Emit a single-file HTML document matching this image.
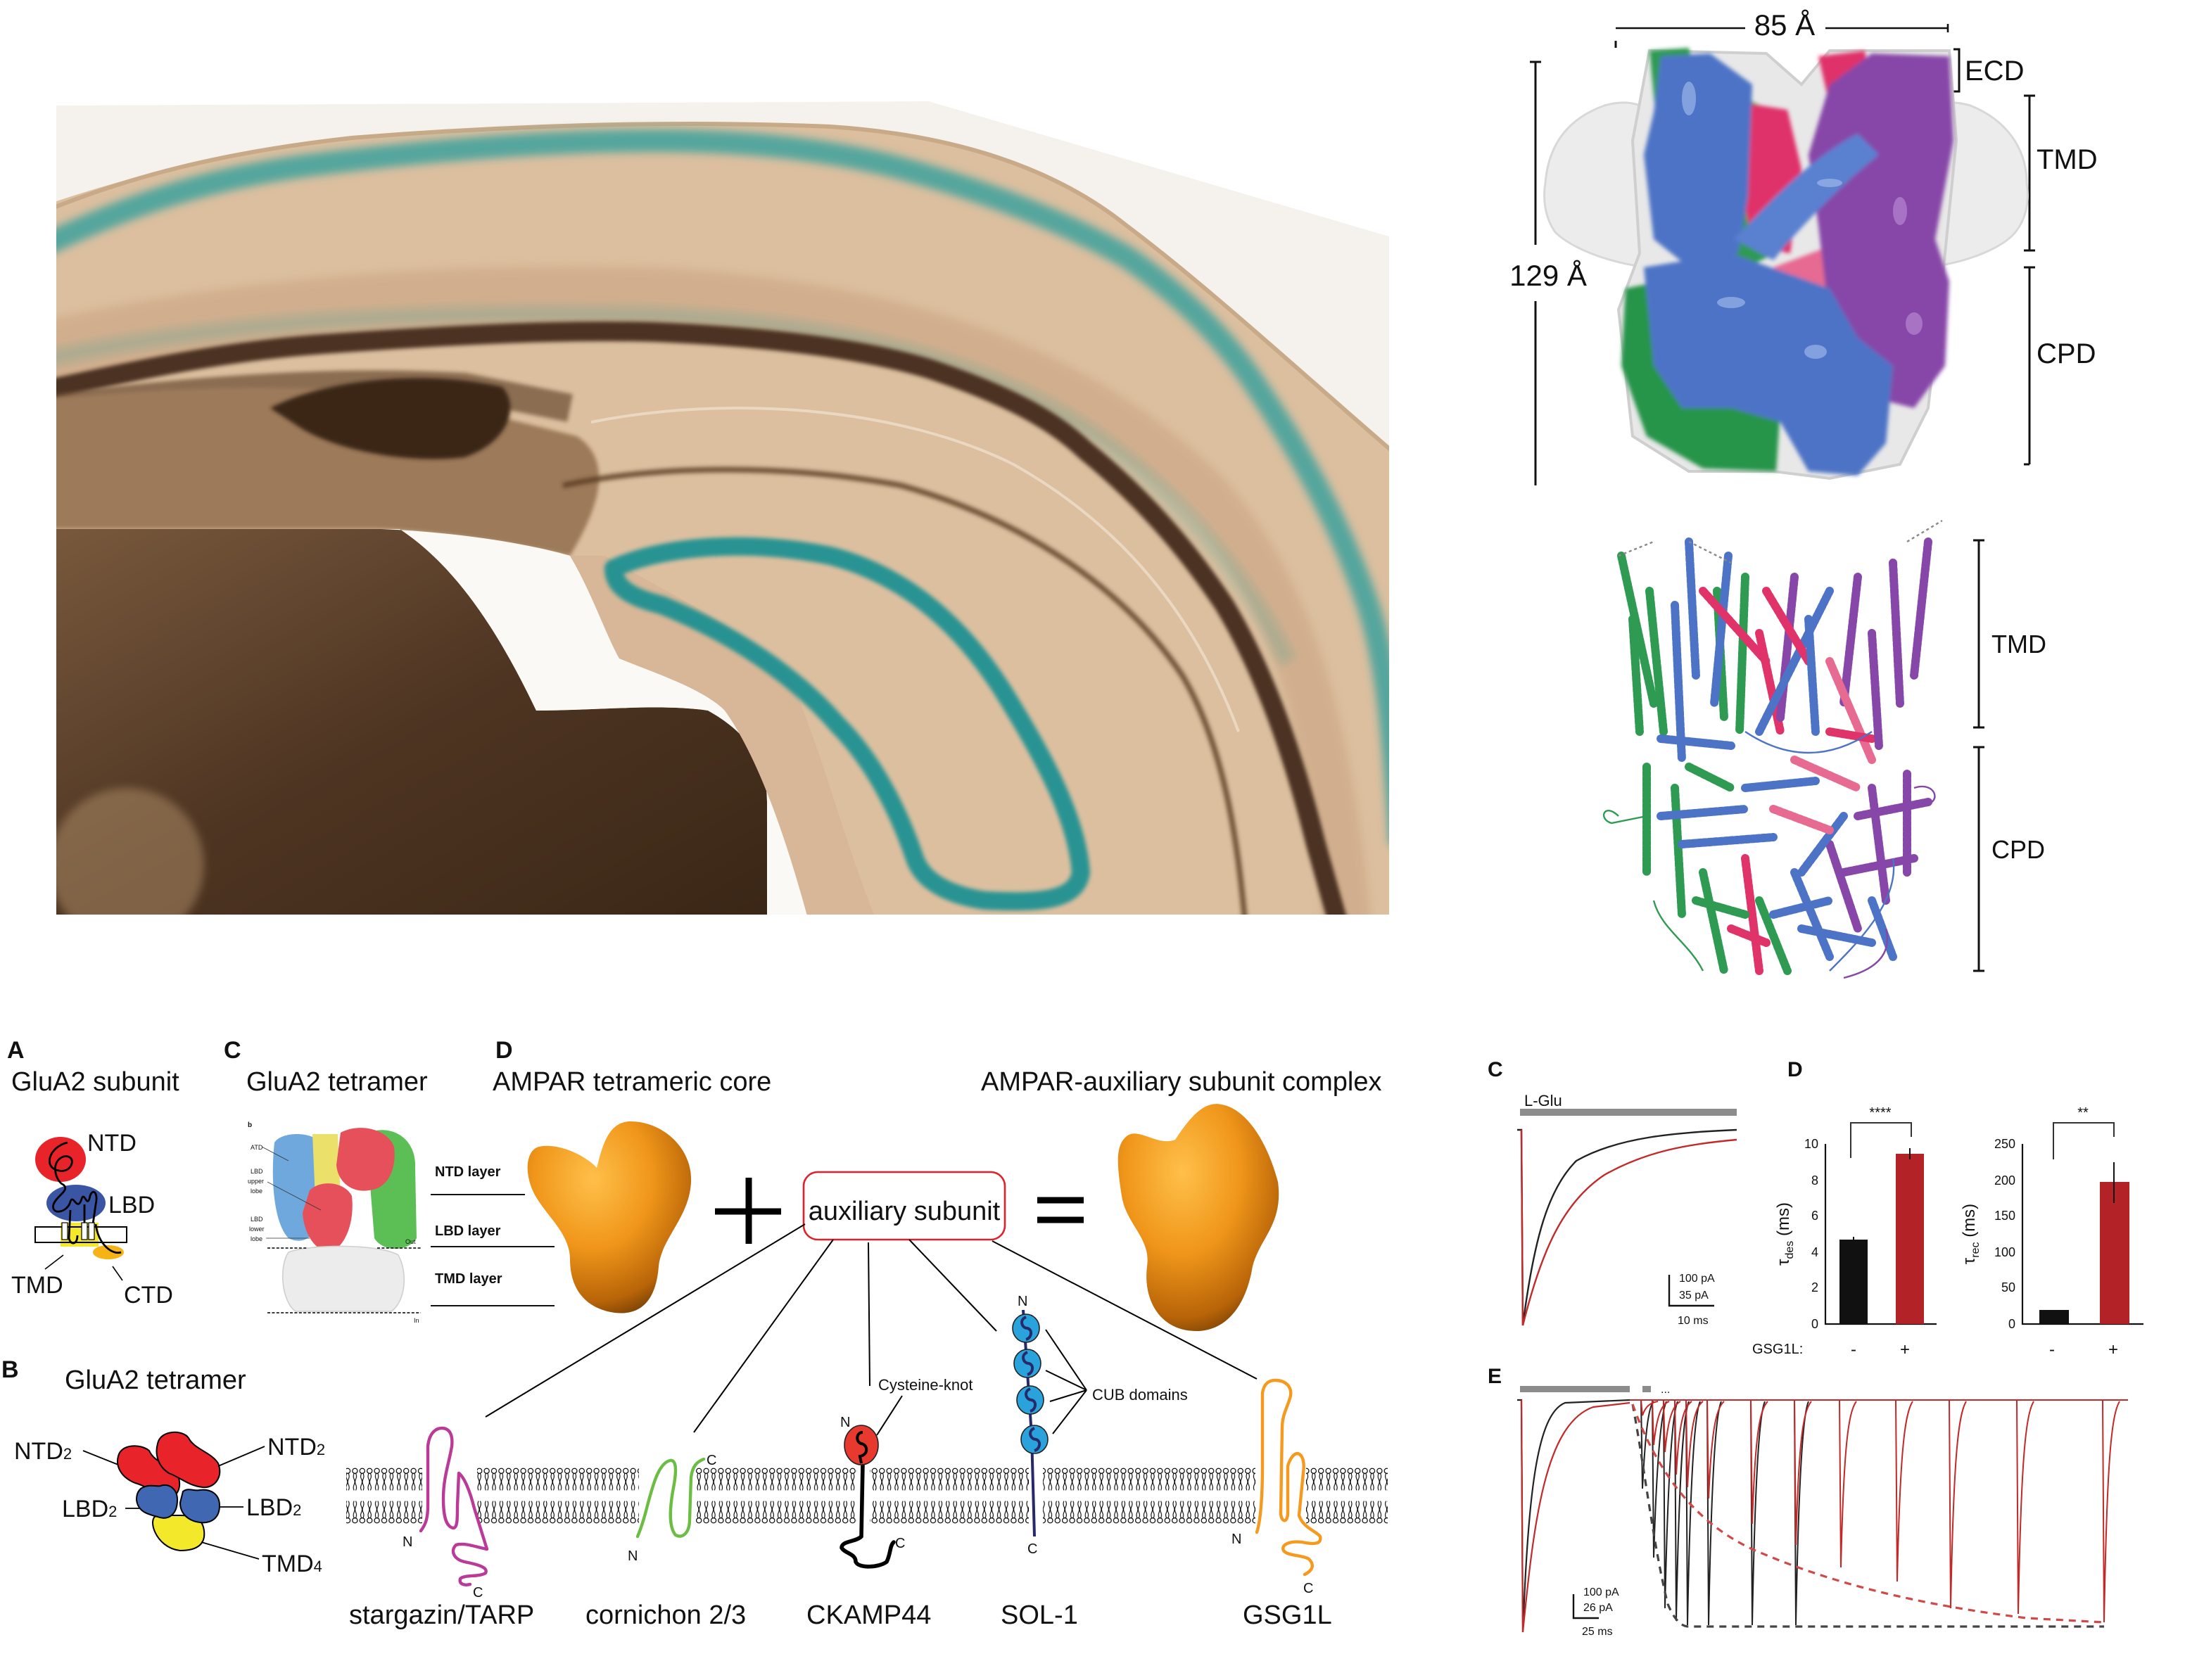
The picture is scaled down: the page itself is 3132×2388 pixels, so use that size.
<!DOCTYPE html>
<html><head><meta charset="utf-8"><style>
html,body{margin:0;padding:0;background:#fff;}
svg{display:block;}
text{font-family:"Liberation Sans",Arial,sans-serif;fill:#111;}
</style></head><body>
<svg width="3132" height="2388" viewBox="0 0 1566 1194" xmlns="http://www.w3.org/2000/svg">
<defs>
<radialGradient id="org" cx="0.4" cy="0.3" r="0.8">
<stop offset="0" stop-color="#ffc04a"/><stop offset="0.45" stop-color="#f0961a"/><stop offset="0.8" stop-color="#b86408"/><stop offset="1" stop-color="#5a3004"/>
</radialGradient>
<linearGradient id="thal" x1="0" y1="0" x2="1" y2="1">
<stop offset="0" stop-color="#7a5a3e"/><stop offset="0.5" stop-color="#4e3522"/><stop offset="1" stop-color="#3a2616"/>
</linearGradient>
<filter id="bl" filterUnits="userSpaceOnUse" x="0" y="0" width="1566" height="1194"><feGaussianBlur stdDeviation="3"/></filter>
<filter id="bl2" filterUnits="userSpaceOnUse" x="0" y="0" width="1566" height="1194"><feGaussianBlur stdDeviation="1.5"/></filter>
<clipPath id="bc"><polygon points="40,75 660,72 987,168 987,650 40,650"/></clipPath>
<pattern id="lip" x="0" y="1043" width="5.2" height="40" patternUnits="userSpaceOnUse">
<circle cx="2.6" cy="2.4" r="1.8" fill="#fff" stroke="#000" stroke-width="0.6"/>
<path d="M2,4.2 q-1,2 0,4 q1,2 0,4 q-1,2 0,4 M3.2,4.2 q1,2 0,4 q-1,2 0,4 q1,2 0,4" fill="none" stroke="#000" stroke-width="0.55"/>
<path d="M2,35.8 q-1,-2 0,-4 q1,-2 0,-4 q-1,-2 0,-4 M3.2,35.8 q1,-2 0,-4 q-1,-2 0,-4 q1,-2 0,-4" fill="none" stroke="#000" stroke-width="0.55"/>
<circle cx="2.6" cy="37.6" r="1.8" fill="#fff" stroke="#000" stroke-width="0.6"/>
</pattern>
</defs>

<!-- ================= BRAIN IMAGE ================= -->
<g clip-path="url(#bc)">
<polygon points="40,75 660,72 987,168 987,650 40,650" fill="#f5f1ec"/>
<path d="M20,150 C90,125 160,108 250,98 C350,90 470,85 590,90 C680,96 750,120 800,160 C860,205 930,270 1000,330 L1000,660 L20,660 Z" fill="#dcbf9f"/>
<path d="M20,155 C90,125 160,108 250,98 C350,90 470,85 590,90 C680,96 750,120 800,160 C860,205 930,270 1000,330" fill="none" stroke="#c9aa88" stroke-width="3"/>
<path d="M20,230 C150,200 300,185 470,190 C650,200 780,250 870,340 C930,410 960,500 975,660 L940,660 C930,520 900,430 850,370 C770,285 640,240 470,235 C300,232 150,250 20,280 Z" fill="#caa684" opacity="0.6" filter="url(#bl)"/>
<g filter="url(#bl)">
<path d="M20,180 C100,140 160,125 223,117 C320,105 400,100 466,100 C540,100 600,108 649,122 C720,142 770,165 801,183 C840,210 870,240 893,275 C930,330 955,380 972,430 C985,470 990,520 995,600" fill="none" stroke="#2a9d9c" stroke-width="16" opacity="0.75"/>
<path d="M20,258 C150,228 300,220 466,224 C600,230 700,258 771,305 C830,345 880,400 915,470" fill="none" stroke="#2a9a95" stroke-width="12" opacity="0.2"/>
</g>
<path d="M20,280 C100,262 160,250 223,245 C320,238 400,234 466,236 C560,240 620,250 660,262 C720,282 750,300 771,320 C820,360 850,400 870,430 C900,480 920,540 935,600 L952,660" fill="none" stroke="#4b3321" stroke-width="14" filter="url(#bl2)"/>
<path d="M20,292 C150,275 250,270 330,275 L405,290" fill="none" stroke="#6b4c33" stroke-width="20" opacity="0.7" filter="url(#bl2)"/>
<path d="M20,285 C120,275 200,272 280,280 C330,290 370,300 410,310 C440,330 420,370 405,395 C360,385 310,378 271,376 L20,376 Z" fill="#9c7a5a" filter="url(#bl2)"/>
<path d="M192,290 C230,270 300,262 357,275 C370,290 360,315 330,325 C290,330 240,320 215,305 Z" fill="#3b2818" filter="url(#bl2)"/>
<path d="M400,345 C470,330 560,330 640,345 C730,370 800,420 840,480 C870,530 880,600 885,660" fill="none" stroke="#5a3b24" stroke-width="4" opacity="0.8" filter="url(#bl2)"/>
<path d="M420,300 C520,280 640,290 720,330 C800,375 850,440 880,520" fill="none" stroke="#efe2d2" stroke-width="2" opacity="0.7"/>
<path d="M20,376 L284,376 C320,400 350,440 381,505 C420,505 470,500 503,505 C530,520 545,540 545,570 L545,660 L20,660 Z" fill="url(#thal)"/>
<ellipse cx="90" cy="615" rx="55" ry="55" fill="#a3825f" opacity="0.6" filter="url(#bl)"/>
<path d="M271,376 C320,378 370,385 405,395 C420,420 430,450 440,468 C470,480 500,490 515,505 C540,540 560,600 576,660 L545,660 L545,570 C545,540 530,520 503,505 C470,500 420,505 381,505 C350,440 320,400 284,376 Z" fill="#fbf9f6"/>
<path d="M405,395 C420,420 430,450 440,468 C470,480 500,490 515,505 C540,540 560,600 576,660 L625,660 C600,600 580,520 560,480 C520,440 470,420 430,395 Z" fill="#d7b797"/>
<path d="M436,404 C470,388 530,383 590,395 C640,408 680,440 712,490 C740,535 765,580 768,620 C765,640 740,642 700,640 C672,636 655,625 650,610 C638,575 620,540 595,515 C565,480 520,450 470,430 C450,425 436,418 436,404 Z" fill="none" stroke="#168f92" stroke-width="13" stroke-linejoin="round" opacity="0.9" filter="url(#bl2)"/>
</g>

<!-- ================= CRYO-EM MAP ================= -->
<line x1="1148" y1="20" x2="1240" y2="20" stroke="#111" stroke-width="1.3"/>
<line x1="1297" y1="20" x2="1384" y2="20" stroke="#111" stroke-width="1.3"/>
<line x1="1384" y1="17" x2="1384" y2="23" stroke="#111" stroke-width="1.3"/>
<line x1="1148" y1="29" x2="1148" y2="34" stroke="#111" stroke-width="1.5"/>
<text x="1268" y="25" font-size="21" text-anchor="middle">85 Å</text>
<line x1="1091" y1="44" x2="1091" y2="174" stroke="#111" stroke-width="1.5"/>
<line x1="1091" y1="214" x2="1091" y2="345" stroke="#111" stroke-width="1.5"/>
<line x1="1087" y1="44" x2="1095" y2="44" stroke="#111" stroke-width="1.5"/>
<text x="1100" y="203" font-size="21" text-anchor="middle">129 Å</text>
<path d="M1388,35 L1392,35 L1392,65 L1388,65" fill="none" stroke="#111" stroke-width="1.5"/>
<text x="1396" y="57" font-size="20">ECD</text>
<path d="M1438,68 L1442,68 L1442,178 L1438,178" fill="none" stroke="#111" stroke-width="1.5"/>
<path d="M1442,68 L1446,68 M1442,178 L1446,178" stroke="#111" stroke-width="1.5"/>
<text x="1447" y="120" font-size="20">TMD</text>
<path d="M1438,190 L1446,190 M1442,190 L1442,330 M1438,330 L1442,330" fill="none" stroke="#111" stroke-width="1.5"/>
<text x="1447" y="258" font-size="20">CPD</text>
<path d="M1098,130 C1100,105 1112,85 1140,75 C1165,68 1180,80 1185,100 L1185,190 C1160,192 1120,180 1105,165 C1098,155 1096,142 1098,130 Z" fill="#ececec" stroke="#d8d8d8" stroke-width="1.5"/>
<path d="M1440,130 C1440,105 1425,85 1400,75 C1375,68 1360,80 1355,100 L1355,190 C1380,192 1420,180 1432,165 C1440,155 1442,142 1440,130 Z" fill="#ececec" stroke="#d8d8d8" stroke-width="1.5"/>
<path d="M1172,36 L1255,38 L1280,60 L1300,36 L1385,36 L1390,100 L1380,200 L1370,290 L1350,330 L1300,340 L1260,335 L1200,335 L1160,310 L1150,220 L1165,180 L1160,100 Z" fill="#e8e8e8" stroke="#cfcfcf" stroke-width="2"/>
<g filter="url(#bl2)">
<path d="M1172,36 L1200,34 L1215,110 L1240,70 L1262,80 L1262,180 L1230,195 L1200,180 L1180,120 Z" fill="#2e9a52"/>
<path d="M1155,205 L1180,200 L1210,250 L1265,290 L1262,335 L1210,333 L1170,310 L1152,260 Z" fill="#279448"/>
<path d="M1232,72 L1270,78 L1280,120 L1272,180 L1245,175 L1235,120 Z" fill="#e0336a"/>
<path d="M1292,40 L1325,36 L1330,70 L1300,75 Z" fill="#e0336a"/>
<path d="M1260,190 L1300,175 L1310,230 L1270,240 Z" fill="#e66a92"/>
<path d="M1300,60 L1330,38 L1385,40 L1388,100 L1375,170 L1385,200 L1382,260 L1360,290 L1320,280 L1300,230 L1292,160 L1285,110 Z" fill="#8747a8"/>
<path d="M1180,40 L1215,38 L1245,60 L1242,140 L1235,180 L1200,190 L1175,170 L1168,110 L1175,80 Z" fill="#4d73c6"/>
<path d="M1232,170 C1260,140 1290,110 1320,95 L1335,110 C1310,130 1280,160 1260,185 Z" fill="#5a80d0"/>
<path d="M1168,190 L1230,180 L1300,205 L1320,240 L1345,260 L1340,315 L1320,338 L1285,335 L1265,300 L1230,290 L1195,290 L1175,260 Z" fill="#4d73c6"/>
</g>
<g fill="#a8c0f0" opacity="0.6"><ellipse cx="1200" cy="70" rx="5" ry="12"/><ellipse cx="1230" cy="215" rx="10" ry="4"/><ellipse cx="1290" cy="250" rx="8" ry="5"/><ellipse cx="1300" cy="130" rx="9" ry="3"/></g>
<g fill="#c9a0e0" opacity="0.5"><ellipse cx="1350" cy="150" rx="5" ry="10"/><ellipse cx="1360" cy="230" rx="6" ry="8"/></g>

<!-- ================= RIBBON ================= -->
<path d="M1406,384 L1406,517 M1402,384 L1410,384 M1402,517 L1410,517" stroke="#111" stroke-width="1.5" fill="none"/>
<path d="M1406,531 L1406,690 M1402,531 L1410,531 M1402,690 L1410,690" stroke="#111" stroke-width="1.5" fill="none"/>
<text x="1415" y="464" font-size="18">TMD</text>
<text x="1415" y="610" font-size="18">CPD</text>
<g fill="none" stroke-width="6" stroke-dasharray="2.2 1.6" stroke-linecap="round">
<path d="M1152,395 L1175,500" stroke="#2e9a52"/>
<path d="M1172,420 L1182,520" stroke="#2e9a52"/>
<path d="M1240,410 L1236,520" stroke="#2e9a52"/>
<path d="M1220,420 L1225,510" stroke="#2e9a52"/>
<path d="M1200,385 L1205,480" stroke="#4d73c6"/>
<path d="M1190,430 L1195,540" stroke="#4d73c6"/>
<path d="M1228,395 L1218,500" stroke="#4d73c6"/>
<path d="M1210,420 L1255,470" stroke="#e0336a"/>
<path d="M1250,450 L1265,520" stroke="#e0336a"/>
<path d="M1275,410 L1265,510" stroke="#8747a8"/>
<path d="M1300,420 L1250,520" stroke="#4d73c6"/>
<path d="M1320,410 L1310,500" stroke="#8747a8"/>
<path d="M1345,400 L1350,500" stroke="#8747a8"/>
<path d="M1370,385 L1360,480" stroke="#8747a8"/>
<path d="M1300,470 L1330,540" stroke="#e66a92"/>
<path d="M1180,525 L1230,530" stroke="#4d73c6"/>
<path d="M1300,520 L1330,525" stroke="#e0336a"/>
<path d="M1240,560 L1290,555" stroke="#4d73c6"/>
<path d="M1275,540 L1320,560" stroke="#e66a92"/>
<path d="M1170,545 L1170,620" stroke="#2e9a52"/>
<path d="M1190,560 L1195,650" stroke="#2e9a52"/>
<path d="M1330,560 L1340,640" stroke="#8747a8"/>
<path d="M1355,550 L1355,620" stroke="#8747a8"/>
<path d="M1195,600 L1260,595" stroke="#4d73c6"/>
<path d="M1210,620 L1225,690" stroke="#2e9a52"/>
<path d="M1240,610 L1250,690" stroke="#e0336a"/>
<path d="M1275,620 L1300,680" stroke="#4d73c6"/>
<path d="M1300,600 L1320,660" stroke="#8747a8"/>
<path d="M1310,580 L1280,620" stroke="#4d73c6"/>
<path d="M1250,640 L1270,690" stroke="#2e9a52"/>
<path d="M1330,640 L1345,680" stroke="#4d73c6"/>
<path d="M1160,440 L1165,520" stroke="#2e9a52"/>
<path d="M1255,420 L1285,470" stroke="#e0336a"/>
<path d="M1285,440 L1290,520" stroke="#4d73c6"/>
<path d="M1330,450 L1335,530" stroke="#8747a8"/>
<path d="M1180,580 L1240,575" stroke="#4d73c6"/>
<path d="M1260,575 L1300,590" stroke="#e66a92"/>
<path d="M1320,580 L1370,570" stroke="#8747a8"/>
<path d="M1205,640 L1240,650" stroke="#2e9a52"/>
<path d="M1260,650 L1300,640" stroke="#4d73c6"/>
<path d="M1310,620 L1360,610" stroke="#8747a8"/>
<path d="M1200,545 L1230,560" stroke="#2e9a52"/>
<path d="M1230,660 L1255,670" stroke="#e0336a"/>
<path d="M1280,660 L1330,670" stroke="#4d73c6"/>
</g>
<g fill="none" stroke-width="1.2">
<path d="M1150,580 C1140,570 1135,582 1145,585 L1170,580 M1175,640 C1180,660 1200,670 1210,690" stroke="#2e9a52"/>
<path d="M1360,560 C1375,555 1380,570 1368,572 M1340,660 C1345,680 1330,690 1310,695" stroke="#8747a8"/>
<path d="M1300,690 C1320,670 1350,640 1345,610 M1240,520 C1270,540 1300,540 1330,520" stroke="#4d73c6"/>
<path d="M1150,395 L1175,385 M1355,385 L1380,370 M1200,385 L1230,400" stroke="#888" stroke-dasharray="2 2"/>
</g>

<!-- ================= BOTTOM LEFT PANELS ================= -->
<text x="5" y="752" font-size="17" font-weight="bold">A</text>
<text x="159" y="752" font-size="17" font-weight="bold">C</text>
<text x="352" y="752" font-size="17" font-weight="bold">D</text>
<text x="8" y="775" font-size="19" fill="#222">GluA2 subunit</text>
<text x="175" y="775" font-size="19" fill="#222">GluA2  tetramer</text>
<text x="350" y="775" font-size="19" fill="#222">AMPAR tetrameric core</text>
<text x="697" y="775" font-size="19" fill="#222">AMPAR-auxiliary subunit complex</text>

<ellipse cx="43" cy="824" rx="18" ry="16" fill="#e8242a"/>
<ellipse cx="54" cy="855" rx="21" ry="13" fill="#3a55a4"/>
<rect x="43" y="869" width="27" height="17" fill="#f4e82a"/>
<rect x="25" y="872" width="65" height="11" fill="none" stroke="#000" stroke-width="1"/>
<ellipse cx="77" cy="890" rx="11" ry="5" fill="#f5b316"/>
<path d="M48,812 C35,815 30,830 42,832 C52,834 55,820 45,822 C35,826 40,840 45,842 C50,846 40,850 38,856 C36,864 48,862 50,854 C52,848 55,862 58,852 C60,846 62,860 64,850 C66,844 70,848 68,856 L66,870 M50,860 L49,880 C50,885 55,885 55,878 M60,856 L60,880 M68,870 C70,885 80,892 86,890" fill="none" stroke="#000" stroke-width="1.4"/>
<rect x="44" y="869" width="4" height="12" fill="#fff" stroke="#000" stroke-width="0.6"/>
<rect x="58" y="869" width="4" height="12" fill="#fff" stroke="#000" stroke-width="0.6"/>
<rect x="63" y="869" width="4" height="12" fill="#fff" stroke="#000" stroke-width="0.6"/>
<text x="62" y="818" font-size="17">NTD</text>
<text x="77" y="862" font-size="17">LBD</text>
<text x="8" y="919" font-size="17">TMD</text>
<text x="88" y="926" font-size="17">CTD</text>
<line x1="32" y1="902" x2="45" y2="892" stroke="#000" stroke-width="0.8"/>
<line x1="80" y1="900" x2="87" y2="910" stroke="#000" stroke-width="0.8"/>

<text x="176" y="801" font-size="5" font-weight="bold">b</text>
<path d="M195,812 C200,804 222,804 227,812 L228,860 C226,880 215,885 205,880 C195,870 192,840 195,812 Z" fill="#6fa8dc"/>
<path d="M222,806 L240,806 L242,852 L224,852 Z" fill="#eae06a"/>
<path d="M265,804 C280,800 296,810 295,830 L296,880 C290,890 272,890 266,880 L262,830 Z" fill="#5cbf55"/>
<path d="M242,805 C255,798 275,802 280,815 C282,832 275,845 262,846 C250,848 240,840 239,828 Z" fill="#e5505a"/>
<path d="M220,846 C228,838 245,840 250,850 C252,868 246,885 235,890 C225,890 216,878 215,862 Z" fill="#e5505a"/>
<path d="M205,890 C220,884 270,884 283,892 C290,905 288,925 278,932 L210,932 C200,925 198,900 205,890 Z" fill="#ececec" stroke="#cfcfcf" stroke-width="0.8"/>
<g font-size="4.5" fill="#333"><text x="178" y="817">ATD</text><text x="178" y="834">LBD</text><text x="176" y="841">upper</text><text x="178" y="848">lobe</text><text x="178" y="868">LBD</text><text x="177" y="875">lower</text><text x="178" y="882">lobe</text><text x="288" y="884">Out</text><text x="294" y="940">In</text></g>
<path d="M186,815 L205,825 M190,840 L228,860 M189,880 L220,880" stroke="#333" stroke-width="0.4"/>
<path d="M190,887 L218,887 M268,887 L299,887 M190,933 L299,933" stroke="#222" stroke-width="0.9" stroke-dasharray="2 1.2"/>
<g font-size="10" font-weight="bold"><text x="309" y="836">NTD layer</text><text x="309" y="878">LBD layer</text><text x="309" y="912">TMD layer</text></g>
<path d="M306,849 L373,849 M306,886 L394,886 M306,928 L394,928" stroke="#111" stroke-width="1"/>

<path d="M383,815 C395,812 415,820 424,830 C428,815 432,797 448,797 C470,797 492,815 491,840 C490,865 470,880 468,900 C466,925 455,935 437,933 C415,930 405,915 405,895 C405,875 385,862 378,845 C372,830 375,817 383,815 Z" fill="url(#org)"/>
<path d="M508,861 L555,861 M532,837 L532,884" stroke="#000" stroke-width="4.5"/>
<rect x="571" y="833" width="143" height="48" rx="10" fill="#fff" stroke="#e0202a" stroke-width="1.3"/>
<text x="642.5" y="867" font-size="19" text-anchor="middle">auxiliary subunit</text>
<path d="M737,853 L770,853 M737,867 L770,867" stroke="#000" stroke-width="4.5"/>
<path d="M800,808 C808,800 822,815 835,810 C845,795 855,782 868,785 C885,788 900,810 908,840 C912,870 895,880 890,900 C885,930 870,946 850,946 C825,946 812,925 815,900 C818,880 800,870 797,850 C794,830 792,815 800,808 Z" fill="url(#org)"/>
<g stroke="#000" stroke-width="1" fill="none">
<path d="M572,870 L345,1007"/><path d="M592,881 L493,1018"/><path d="M617,883 L618,985"/><path d="M646,881 L708,946"/><path d="M705,882 L893,980"/>
<path d="M641,992 L623,1020"/>
<path d="M772,988 L743,945 M772,988 L743,974 M772,988 L746,996 M772,988 L748,1019"/>
</g>

<g fill="url(#lip)">
<rect x="246" y="1043" width="54" height="40"/>
<rect x="339" y="1043" width="115" height="40"/>
<rect x="494" y="1043" width="115" height="40"/>
<rect x="618" y="1043" width="113" height="40"/>
<rect x="741" y="1043" width="151" height="40"/>
<rect x="928" y="1043" width="58" height="40"/>
</g>

<path d="M299,1088 C302,1084 304,1080 304,1070 L304,1028 C305,1018 310,1015 314,1015 C319,1015 322,1019 321,1028 C319,1040 315,1050 315,1065 C315,1078 317,1085 322,1086 C325,1086 325,1080 325,1070 L326,1047 C330,1050 334,1060 337,1072 L346,1101 C340,1100 330,1096 324,1098 C320,1102 322,1108 330,1110 C340,1112 347,1114 345,1118 C340,1121 330,1119 327,1122 C326,1126 330,1127 334,1126" fill="none" stroke="#bb3a98" stroke-width="2.2" stroke-linecap="round" stroke-linejoin="round"/>
<text x="286" y="1099" font-size="10">N</text><text x="336" y="1135" font-size="10">C</text>
<path d="M453,1092 C456,1085 458,1078 460,1070 C464,1055 468,1040 476,1038 C482,1037 480,1050 478,1060 C476,1072 475,1085 480,1091 C486,1094 490,1088 490,1080 L491,1050 C492,1042 495,1039 500,1037" fill="none" stroke="#6cbd43" stroke-width="2.2" stroke-linecap="round"/>
<text x="446" y="1109" font-size="10">N</text><text x="502" y="1041" font-size="10">C</text>
<path d="M613,1040 L612,1092 C608,1096 598,1095 598,1100 C600,1104 608,1104 608,1110 C610,1115 625,1114 630,1110 C633,1104 632,1099 635,1096" fill="none" stroke="#000" stroke-width="2.8" stroke-linecap="round"/>
<ellipse cx="612" cy="1027" rx="12" ry="14" fill="#e8392e" stroke="#222" stroke-width="0.8"/>
<path d="M613,1018 C608,1018 608,1025 612,1026 C617,1027 617,1034 611,1035 L612,1040" fill="none" stroke="#000" stroke-width="2"/>
<text x="597" y="1014" font-size="10">N</text><text x="636" y="1100" font-size="10">C</text>
<text x="624" y="988" font-size="11">Cysteine-knot</text>
<path d="M727,931 C729,960 731,990 733,1020 L735,1092" fill="none" stroke="#262a6a" stroke-width="2"/>
<g fill="#2aa3dc" stroke="#222" stroke-width="0.8">
<ellipse cx="729" cy="944" rx="9.5" ry="10"/><ellipse cx="730" cy="969" rx="9.5" ry="10"/><ellipse cx="732" cy="995" rx="9.5" ry="10"/><ellipse cx="735" cy="1023" rx="9.5" ry="10"/>
</g>
<g fill="none" stroke="#262a6a" stroke-width="2">
<path d="M729,936 C724,938 726,944 730,944 C734,945 733,951 729,952"/><path d="M730,961 C725,963 727,969 731,969 C735,970 734,976 730,977"/><path d="M732,987 C727,989 729,995 733,995 C737,996 736,1002 732,1003"/><path d="M735,1015 C730,1017 732,1023 736,1023 C740,1024 739,1030 735,1031"/>
</g>
<text x="723" y="928" font-size="10">N</text><text x="730" y="1104" font-size="10">C</text>
<text x="776" y="995" font-size="11">CUB domains</text>
<path d="M893,1089 C896,1080 897,1060 897,1043 L897,990 C898,983 902,981 906,981 C913,981 918,985 917,992 C915,1000 911,1005 911,1015 L910,1075 C910,1082 915,1083 915,1075 L915,1042 C917,1035 920,1033 922,1033 C926,1034 927,1040 926,1047 L923,1077 C926,1086 935,1088 938,1092 C939,1097 935,1098 925,1096 C916,1095 910,1098 912,1102 C915,1106 925,1105 930,1108 C934,1112 933,1116 927,1119" fill="none" stroke="#f59a1e" stroke-width="2.2" stroke-linecap="round" stroke-linejoin="round"/>
<text x="875" y="1097" font-size="10">N</text><text x="926" y="1132" font-size="10">C</text>
<g font-size="19" fill="#111"><text x="248" y="1154">stargazin/TARP</text><text x="416" y="1154">cornichon 2/3</text><text x="573" y="1154">CKAMP44</text><text x="711" y="1154">SOL-1</text><text x="883" y="1154">GSG1L</text></g>

<text x="1" y="979" font-size="17" font-weight="bold">B</text>
<text x="46" y="987" font-size="19" fill="#222">GluA2  tetramer</text>
<path d="M84,1035 C86,1026 100,1026 106,1031 C110,1040 120,1040 126,1048 C130,1056 126,1066 118,1064 C110,1062 104,1056 96,1054 C86,1050 82,1042 84,1035 Z" fill="#e8242a" stroke="#000" stroke-width="1"/>
<path d="M112,1026 C114,1016 130,1016 134,1022 C138,1030 150,1032 155,1040 C159,1050 152,1058 144,1057 C134,1056 128,1050 120,1047 C112,1042 110,1033 112,1026 Z" fill="#e8242a" stroke="#000" stroke-width="1"/>
<path d="M112,1077 C104,1078 110,1100 128,1102 C142,1102 146,1096 145,1088 C144,1079 138,1077 128,1077 Z" fill="#f4e82a" stroke="#000" stroke-width="1"/>
<path d="M100,1058 C106,1054 112,1057 114,1056 C120,1054 126,1058 126,1066 C126,1076 120,1081 112,1078 C104,1076 98,1074 97,1066 C97,1062 98,1060 100,1058 Z" fill="#3f67b2" stroke="#000" stroke-width="1"/>
<path d="M130,1060 C134,1057 138,1060 142,1059 C150,1058 156,1062 156,1070 C156,1079 150,1083 142,1082 C134,1081 128,1076 128,1068 Z" fill="#3f67b2" stroke="#000" stroke-width="1"/>
<g font-size="17"><text x="10" y="1037">NTD<tspan font-size="11">2</tspan></text><text x="190" y="1034">NTD<tspan font-size="11">2</tspan></text><text x="44" y="1078">LBD<tspan font-size="11">2</tspan></text><text x="175" y="1077">LBD<tspan font-size="11">2</tspan></text><text x="186" y="1117">TMD<tspan font-size="11">4</tspan></text></g>
<g stroke="#000" stroke-width="0.9"><line x1="59" y1="1031" x2="84" y2="1041"/><line x1="155" y1="1042" x2="188" y2="1028"/><line x1="89" y1="1072" x2="99" y2="1072"/><line x1="156" y1="1071" x2="173" y2="1071"/><line x1="143" y1="1096" x2="184" y2="1108"/></g>

<!-- ================= RIGHT BOTTOM ================= -->
<text x="1057" y="765" font-size="15" font-weight="bold">C</text>
<text x="1083" y="786" font-size="11">L-Glu</text>
<rect x="1080" y="788" width="154" height="5" fill="#8c8c8c"/>
<path d="M1078,803 L1081,803 L1082,942 C1090,880 1100,845 1120,825 C1150,808 1190,805 1234,803" fill="none" stroke="#222" stroke-width="1.2"/>
<path d="M1081,803 L1082,942 C1095,890 1110,855 1140,835 C1170,818 1200,813 1234,810" fill="none" stroke="#c22a2a" stroke-width="1.2"/>
<path d="M1186,906 L1186,928 L1218,928" fill="none" stroke="#111" stroke-width="1.2"/>
<text x="1193" y="911" font-size="8">100 pA</text><text x="1193" y="923" font-size="8" fill="#c22a2a">35 pA</text><text x="1192" y="941" font-size="8">10 ms</text>

<text x="1270" y="765" font-size="15" font-weight="bold">D</text>
<path d="M1297,813 L1297,941 L1376,941" fill="none" stroke="#111" stroke-width="1.1"/>
<g font-size="9" text-anchor="end"><text x="1292" y="944">0</text><text x="1292" y="918">2</text><text x="1292" y="893">4</text><text x="1292" y="867">6</text><text x="1292" y="842">8</text><text x="1292" y="816">10</text></g>
<rect x="1307" y="881" width="20" height="60" fill="#111"/>
<rect x="1347" y="820" width="20" height="121" fill="#b32226"/>
<line x1="1317" y1="879" x2="1317" y2="883" stroke="#111"/>
<line x1="1357" y1="816" x2="1357" y2="824" stroke="#111"/>
<path d="M1315,823 L1315,798 L1358,798 L1358,808" fill="none" stroke="#333" stroke-width="1"/>
<text x="1336" y="794" font-size="10" text-anchor="middle">****</text>
<text transform="translate(1271,877) rotate(-90)" font-size="12" text-anchor="middle">τ<tspan font-size="8" dy="3">des</tspan><tspan dy="-3"> (ms)</tspan></text>
<path d="M1437,813 L1437,941 L1523,941" fill="none" stroke="#111" stroke-width="1.1"/>
<g font-size="9" text-anchor="end"><text x="1432" y="944">0</text><text x="1432" y="918">50</text><text x="1432" y="893">100</text><text x="1432" y="867">150</text><text x="1432" y="842">200</text><text x="1432" y="816">250</text></g>
<rect x="1449" y="931" width="21" height="10" fill="#111"/>
<rect x="1492" y="840" width="21" height="101" fill="#b32226"/>
<line x1="1502" y1="826" x2="1502" y2="855" stroke="#111"/>
<path d="M1459,824 L1459,798 L1502,798 L1502,808" fill="none" stroke="#333" stroke-width="1"/>
<text x="1480" y="794" font-size="10" text-anchor="middle">**</text>
<text transform="translate(1403,877) rotate(-90)" font-size="12" text-anchor="middle">τ<tspan font-size="8" dy="3">rec</tspan><tspan dy="-3"> (ms)</tspan></text>
<text x="1245" y="962" font-size="10">GSG1L:</text>
<g font-size="12"><text x="1315" y="963">-</text><text x="1350" y="963">+</text><text x="1456" y="963">-</text><text x="1498" y="963">+</text></g>

<text x="1057" y="983" font-size="15" font-weight="bold">E</text>
<rect x="1080" y="985" width="78" height="4.5" fill="#8c8c8c"/>
<rect x="1167" y="985" width="6" height="4.5" fill="#8c8c8c"/>
<text x="1180" y="990" font-size="8" fill="#555">...</text>
<path d="M1078,995 L1081,995 L1082,1160 C1086,1060 1092,1005 1112,997 L1158,995" fill="none" stroke="#222" stroke-width="1.1"/>
<path d="M1081,995 L1082,1160 C1090,1080 1098,1012 1132,1000 L1158,997" fill="none" stroke="#c22a2a" stroke-width="1.1"/>
<g fill="none" stroke="#222" stroke-width="1">
<path d="M1162,995 L1166,995 L1167,1058 C1169,1020 1171,1000 1175,996"/>
<path d="M1174,995 L1175,1107 C1177,1040 1180,1005 1184,996"/>
<path d="M1182,995 L1183,1143 C1185,1050 1188,1005 1192,996"/>
<path d="M1190,995 L1191,1152 C1193,1050 1196,1005 1200,996"/>
<path d="M1198,995 L1199,1155 C1201,1050 1204,1005 1208,996"/>
<path d="M1213,995 L1214,1155 C1216,1050 1219,1005 1223,996"/>
<path d="M1244,995 L1245,1155 C1247,1050 1250,1005 1254,996"/>
<path d="M1275,995 L1276,1155 C1278,1050 1281,1005 1285,996"/>
</g>
<g fill="none" stroke="#c22a2a" stroke-width="1">
<path d="M1158,995 L1512,995"/>
<path d="M1166,995 L1167,1006 C1169,1000 1172,997 1178,996"/>
<path d="M1174,995 L1175,1027 C1177,1008 1180,998 1186,996"/>
<path d="M1182,995 L1183,1032 C1185,1010 1188,999 1194,996"/>
<path d="M1190,995 L1191,1048 C1193,1012 1196,1000 1202,996"/>
<path d="M1198,995 L1199,1057 C1201,1015 1204,1000 1210,996"/>
<path d="M1213,995 L1214,1065 C1216,1018 1219,1001 1225,996"/>
<path d="M1244,995 L1245,1083 C1247,1022 1250,1002 1256,996"/>
<path d="M1275,995 L1276,1098 C1278,1025 1281,1003 1287,996"/>
<path d="M1307,995 L1308,1114 C1310,1030 1313,1004 1319,996"/>
<path d="M1347,995 L1348,1124 C1350,1035 1353,1005 1359,996"/>
<path d="M1385,995 L1386,1143 C1388,1040 1391,1006 1397,996"/>
<path d="M1433,995 L1434,1147 C1436,1040 1439,1006 1445,996"/>
<path d="M1494,995 L1495,1153 C1497,1040 1500,1006 1506,996"/>
</g>
<path d="M1160,998 C1168,1040 1175,1100 1185,1140 C1190,1152 1195,1156 1200,1156 L1495,1156" fill="none" stroke="#444" stroke-width="1.6" stroke-dasharray="5 4"/>
<path d="M1160,998 C1175,1040 1200,1080 1245,1101 C1300,1125 1360,1140 1440,1150 L1495,1153" fill="none" stroke="#d04848" stroke-width="1.6" stroke-dasharray="5 4"/>
<path d="M1118,1133 L1118,1150 L1136,1150" fill="none" stroke="#111" stroke-width="1.2"/>
<text x="1125" y="1134" font-size="8">100 pA</text><text x="1125" y="1145" font-size="8" fill="#c22a2a">26 pA</text><text x="1124" y="1162" font-size="8">25 ms</text>
</svg>
</body></html>
